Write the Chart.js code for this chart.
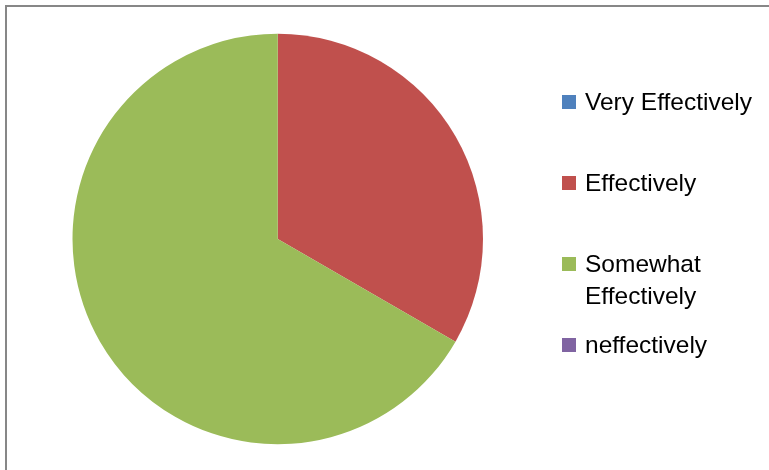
<!DOCTYPE html>
<html>
<head>
<meta charset="utf-8">
<script src="https://cdn.jsdelivr.net/npm/chart.js@4/dist/chart.umd.min.js"></script>
<style>
  html,body{margin:0;padding:0;background:#fff;}
  #wrap{position:relative;width:769px;height:470px;overflow:hidden;}
  #frame{position:absolute;left:5px;top:5px;width:800px;height:500px;border-top:2px solid #878787;border-left:2px solid #878787;box-sizing:border-box;}
  #c{position:absolute;left:0;top:0;}
  #legend{position:absolute;left:0;top:0;font-family:'Liberation Sans',Arial,sans-serif;font-size:24.5px;color:#000;}
  .item{position:absolute;left:562px;display:flex;align-items:flex-start;white-space:nowrap;}
  .sw{width:14px;height:14px;margin-top:9px;margin-right:9px;flex:none;}
  .txt{line-height:32px;}
</style>
</head>
<body>
<div id="wrap">
  <div id="frame"></div>
  <canvas id="c" width="769" height="470"></canvas>
  <div id="legend"></div>
</div>
<script>
const labels=['Very Effectively','Effectively','Somewhat Effectively','neffectively'];
const legendLines=[['Very Effectively'],['Effectively'],['Somewhat','Effectively'],['neffectively']];
const values=[0,1,2,0];
const colors=['#4F81BD','#C0504D','#9BBB59','#8064A2'];
const legendTops=[86,167,248,329];

new Chart(document.getElementById('c'),{
  type:'pie',
  data:{labels,datasets:[{data:values,backgroundColor:colors,borderWidth:0}]},
  options:{
    responsive:false,animation:false,
    layout:{padding:{left:72.5,top:33.5,right:286,bottom:25.5}},
    plugins:{legend:{display:false},tooltip:{enabled:false}}
  }
});

document.getElementById('legend').innerHTML=labels.map((l,i)=>
  `<div class="item" style="top:${legendTops[i]}px"><div class="sw" style="background:${colors[i]}"></div><div class="txt">${legendLines[i].join('<br>')}</div></div>`
).join('');
</script>
</body>
</html>
